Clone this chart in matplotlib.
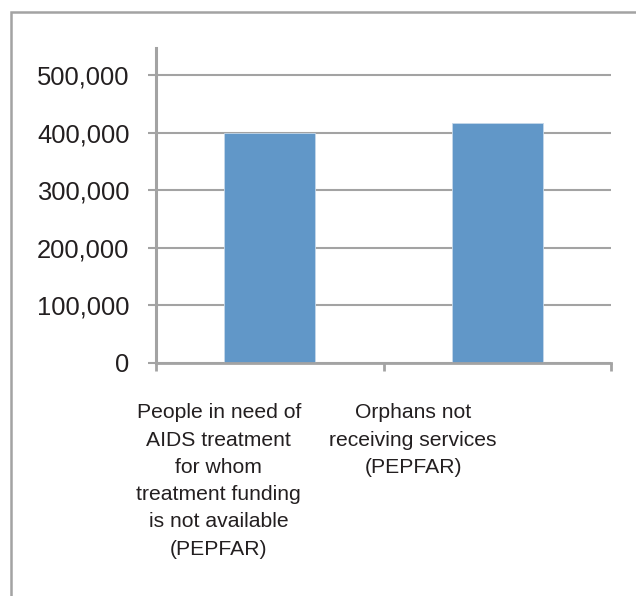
import matplotlib.pyplot as plt
import matplotlib.patches as patches
from matplotlib.ticker import FuncFormatter

plt.rcParams['font.family'] = ['Liberation Sans', 'DejaVu Sans']

categories = ["People in need of\nAIDS treatment\nfor whom\ntreatment funding\nis not available\n(PEPFAR)",
              "Orphans not\nreceiving services\n(PEPFAR)"]
values = [400000, 416000]
yticks = [0, 100000, 200000, 300000, 400000, 500000]

grey = '#a3a3a3'
textcol = '#231f20'

fig = plt.figure(figsize=(6.36, 5.96), dpi=100)
ax = fig.add_axes([0.2453, 0.391, 0.7154, 0.5285])

# outer frame (cut off at right and bottom)
frame = patches.Rectangle((11 / 636, -0.2), 1.5, 0.98 + 0.2, transform=fig.transFigure,
                          fill=False, edgecolor=grey, linewidth=1.8, clip_on=False)
fig.patches.append(frame)

x = list(range(len(values)))
ax.bar(x, values, width=0.4, color='#6197c8', edgecolor='#c5d8ea', linewidth=0.6, zorder=3)

ax.set_xlim(-0.5, 1.5)
ax.set_ylim(0, 547000)
ax.set_yticks(yticks)
ax.yaxis.set_major_formatter(FuncFormatter(lambda v, p: f"{int(v):,}"))
ax.grid(axis='y', color=grey, linewidth=1.5, zorder=0)

ax.set_xticks([-0.5, 0.5, 1.5])
ax.set_xticklabels([])

for s in ['top', 'right']:
    ax.spines[s].set_visible(False)
ax.spines['left'].set_color(grey)
ax.spines['left'].set_linewidth(2.2)
ax.spines['bottom'].set_color(grey)
ax.spines['bottom'].set_linewidth(2.0)
ax.spines['bottom'].set_zorder(4)

ax.tick_params(axis='y', length=6, width=1.5, color=grey, pad=13,
               labelsize=18.4, labelcolor=textcol)
ax.tick_params(axis='x', length=5.5, width=2.0, color=grey)

# category labels sit under the axis, a bit left of the bars
label_x = [0.138, 0.565]
for lx, lab in zip(label_x, categories):
    ax.text(lx, -0.128, lab, transform=ax.transAxes, ha='center', va='top',
            fontsize=15.2, color=textcol, linespacing=1.55)

fig.savefig('out.png', dpi=100)
